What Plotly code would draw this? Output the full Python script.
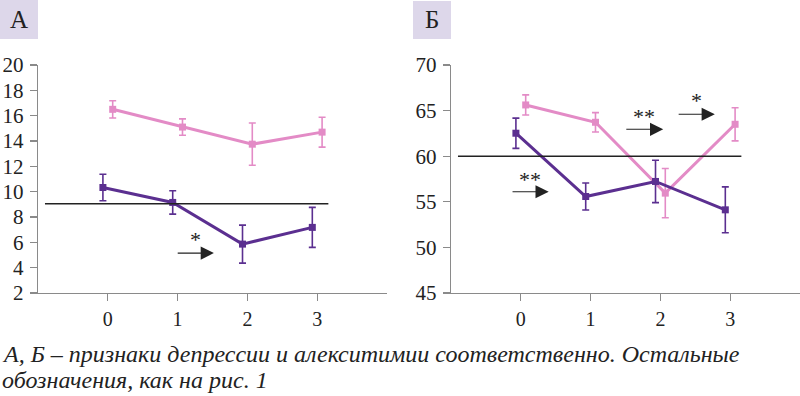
import plotly.graph_objects as go

# ---------------- data ----------------
time_points = [0, 1, 2, 3]
x_offset = 0.07

# Panel A (depression)
a_pink = [16.5, 15.1, 13.75, 14.7]
a_pink_err = [0.68, 0.65, 1.67, 1.18]
a_purple = [10.33, 9.15, 5.86, 7.18]
a_purple_err = [1.05, 0.92, 1.5, 1.58]
a_ref_value = 9.05
a_yticks = [2, 4, 6, 8, 10, 12, 14, 16, 18, 20]

# Panel B (alexithymia)
b_pink = [65.62, 63.72, 55.95, 63.5]
b_pink_err = [1.1, 1.06, 2.7, 1.82]
b_purple = [62.52, 55.58, 57.23, 54.12]
b_purple_err = [1.66, 1.48, 2.32, 2.52]
b_ref_value = 60.0
b_yticks = [45, 50, 55, 60, 65, 70]

ref_span = [-0.9, 3.16]

# significance arrows: (star text, star x, star y, arrow x0, arrow x1, arrow y)
a_marks = [("*", 1.25, 6.2, 0.98, 1.52, 5.15)]
b_marks = [("**", 0.13, 57.5, -0.14, 0.4, 56.1),
           ("**", 1.76, 64.4, 1.49, 2.04, 62.95),
           ("*", 2.51, 66.1, 2.24, 2.78, 64.6)]

caption_1 = "А, Б – признаки депрессии и алекситимии соответственно. Остальные"
caption_2 = "обозначения, как на рис. 1"
panel_labels = ["А", "Б"]

# ---------------- style ----------------
PINK = "#e38bc6"
PURPLE = "#5b2f90"
AXIS = "#8a8a8a"
SERIF = "'Liberation Serif', 'DejaVu Serif', serif"
W, H = 800, 396

def px(v):
    return v / W

def py(v):
    return 1 - v / H

fig = go.Figure()

def add_series(y, err, color, xaxis, yaxis, shift):
    fig.add_trace(go.Scatter(
        x=[t + shift for t in time_points], y=y,
        xaxis=xaxis, yaxis=yaxis,
        mode="lines+markers",
        line=dict(color=color, width=3),
        marker=dict(symbol="square", size=7, color=color),
        error_y=dict(type="data", array=err, color=color, thickness=1.6, width=3.5),
        showlegend=False, hoverinfo="skip",
    ))

add_series(a_pink, a_pink_err, PINK, "x", "y", x_offset)
add_series(a_purple, a_purple_err, PURPLE, "x", "y", -x_offset)
add_series(b_pink, b_pink_err, PINK, "x2", "y2", x_offset)
add_series(b_purple, b_purple_err, PURPLE, "x2", "y2", -x_offset)

# reference lines
fig.add_trace(go.Scatter(x=ref_span, y=[a_ref_value] * 2, xaxis="x", yaxis="y",
                         mode="lines", line=dict(color="#222222", width=1.5),
                         showlegend=False, hoverinfo="skip"))
fig.add_trace(go.Scatter(x=ref_span, y=[b_ref_value] * 2, xaxis="x2", yaxis="y2",
                         mode="lines", line=dict(color="#222222", width=1.5),
                         showlegend=False, hoverinfo="skip"))

ydom = [py(293), py(65)]
TICKFONT_Y = dict(family=SERIF, size=21, color="#222222")
TICKFONT_X = dict(family=SERIF, size=20, color="#222222")
axis_common = dict(showline=True, linecolor=AXIS, linewidth=1.2, ticks="outside",
                   tickcolor=AXIS, ticklen=7, tickwidth=1.2, showgrid=False,
                   zeroline=False, automargin=False, fixedrange=True)

fig.update_layout(
    width=W, height=H,
    margin=dict(l=0, r=0, t=0, b=0),
    paper_bgcolor="white", plot_bgcolor="white",
    xaxis=dict(domain=[px(38), px(387)], range=[-1, 4], tickvals=time_points,
               anchor="y", ticklabelstandoff=1, tickfont=TICKFONT_X, **axis_common),
    yaxis=dict(domain=ydom, range=[2, 20], tickvals=a_yticks, anchor="x",
               ticklabelstandoff=2, tickfont=TICKFONT_Y, **axis_common),
    xaxis2=dict(domain=[px(451), 1.0], range=[-1, 4], tickvals=time_points,
                anchor="y2", ticklabelstandoff=1, tickfont=TICKFONT_X, **axis_common),
    yaxis2=dict(domain=ydom, range=[45, 70], tickvals=b_yticks, anchor="x2",
                ticklabelstandoff=2, tickfont=TICKFONT_Y, **axis_common),
)

annotations = []
for marks, xr, yr in [(a_marks, "x", "y"), (b_marks, "x2", "y2")]:
    for txt, sx, sy, x0, x1, ay in marks:
        annotations.append(dict(x=sx, y=sy, xref=xr, yref=yr, text=txt, showarrow=False,
                                font=dict(family=SERIF, size=22, color="#222222")))
        annotations.append(dict(x=x1, y=ay, ax=x0, ay=ay, xref=xr, yref=yr,
                                axref=xr, ayref=yr, text="", showarrow=True,
                                arrowhead=2, arrowsize=2.4, arrowwidth=1.1,
                                arrowcolor="#222222"))

# panel label boxes
shapes = [
    dict(type="rect", xref="paper", yref="paper", x0=0, x1=px(38), y0=py(39), y1=py(0),
         fillcolor="#ddd7ea", line=dict(width=0), layer="below"),
    dict(type="rect", xref="paper", yref="paper", x0=px(413), x1=px(451), y0=py(39), y1=py(1),
         fillcolor="#ddd7ea", line=dict(width=0), layer="below"),
]
for lbl, cx in zip(panel_labels, [19, 432]):
    annotations.append(dict(x=px(cx), y=py(20), xref="paper", yref="paper", text=lbl,
                            showarrow=False, xanchor="center", yanchor="middle",
                            font=dict(family=SERIF, size=25, color="#222222")))

annotations.append(dict(x=0, y=py(354), xref="paper", yref="paper", text="<i>" + caption_1 + "</i>",
                        showarrow=False, xanchor="left", yanchor="middle",
                        font=dict(family=SERIF, size=24, color="#222222")))
annotations.append(dict(x=0, y=py(380), xref="paper", yref="paper", text="<i>" + caption_2 + "</i>",
                        showarrow=False, xanchor="left", yanchor="middle",
                        font=dict(family=SERIF, size=24, color="#222222")))

fig.update_layout(annotations=annotations, shapes=shapes)
fig.write_html("out.html", config={"displayModeBar": False, "staticPlot": True},
               post_script="document.body.style.margin='0';document.body.style.overflow='hidden';")
